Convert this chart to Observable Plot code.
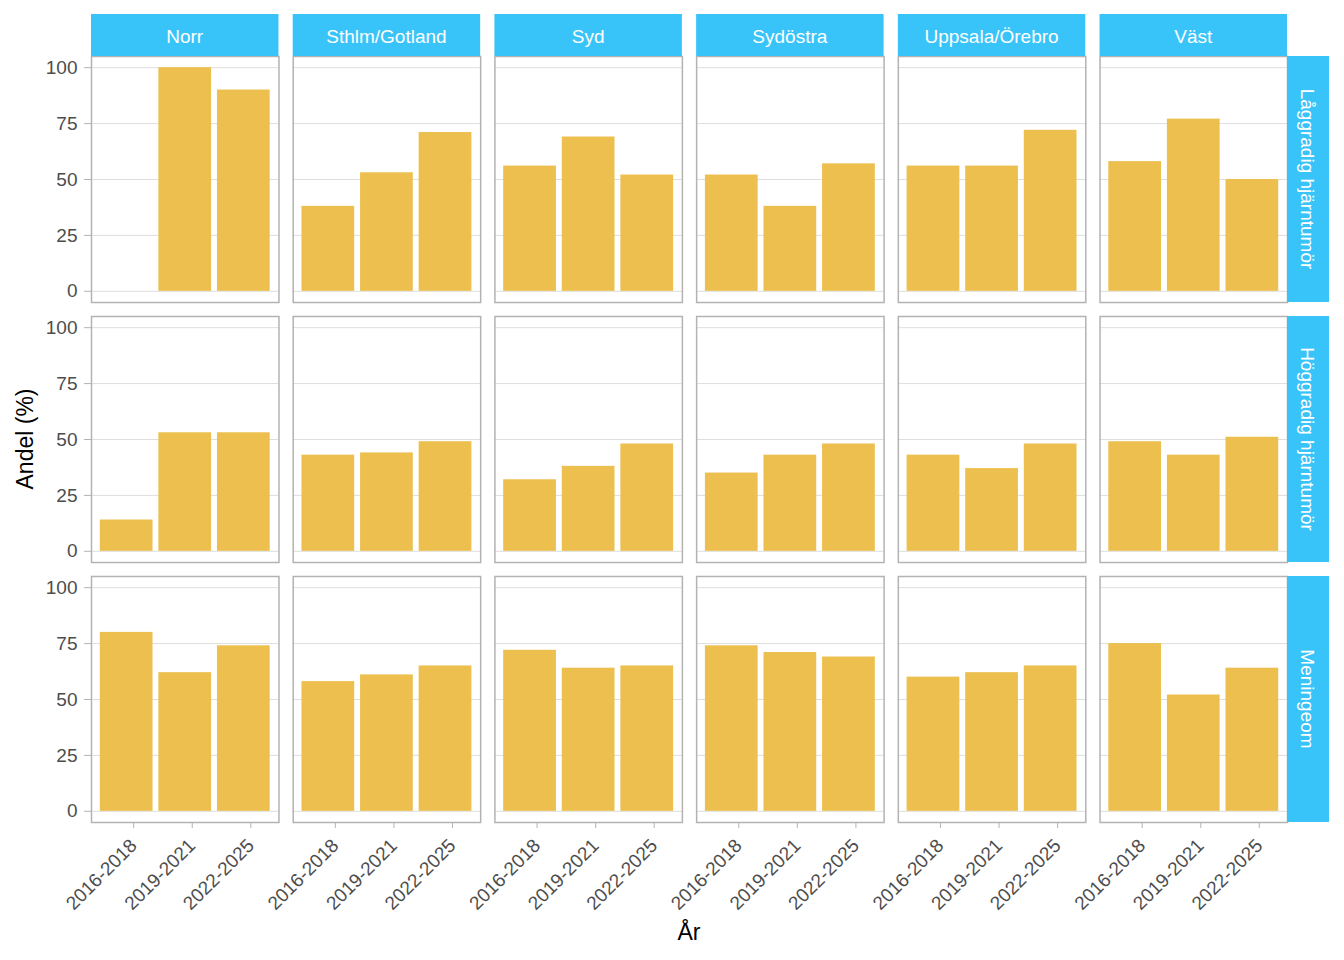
<!DOCTYPE html>
<html><head><meta charset="utf-8">
<script src="https://cdn.jsdelivr.net/npm/d3@7"></script>
<script src="https://cdn.jsdelivr.net/npm/@observablehq/plot@0.6"></script>
<style>body{margin:0;background:#fff}</style>
</head><body><div id="chart"></div>
<script>
const regions = ["Norr", "Sthlm/Gotland", "Syd", "Sydöstra", "Uppsala/Örebro", "Väst"];
const types = ["Låggradig hjärntumör", "Höggradig hjärntumör", "Meningeom"];
const periods = ["2016-2018", "2019-2021", "2022-2025"];
const yTicks = [0, 25, 50, 75, 100];
// one row per region, values per period (null = no bar)
const lowGrade   = [[null, 100, 90], [38, 53, 71], [56, 69, 52], [52, 38, 57], [56, 56, 72], [58, 77, 50]];
const highGrade  = [[14, 53, 53], [43, 44, 49], [32, 38, 48], [35, 43, 48], [43, 37, 48], [49, 43, 51]];
const meningioma = [[80, 62, 74], [58, 61, 65], [72, 64, 65], [74, 71, 69], [60, 62, 65], [75, 52, 64]];
const seriesByType = [lowGrade, highGrade, meningioma];

const data = [];
types.forEach((t, ti) => {
  regions.forEach((r, ri) => {
    periods.forEach((p, pi) => {
      const v = seriesByType[ti][ri][pi];
      if (v != null) data.push({type: t, region: r, period: p, value: v});
    });
  });
});

const W = 1344, H = 960, mL = 91, mR = 57, mT = 56, mB = 138;
const FONT = "'Liberation Sans', Arial, sans-serif";
const STRIP = "#39C4F9";

const plot = Plot.plot({
  width: W, height: H,
  marginLeft: mL, marginRight: mR, marginTop: mT, marginBottom: mB,
  style: {fontFamily: FONT, background: "white"},
  facet: {data, x: "region", y: "type"},
  fx: {domain: regions, axis: null, paddingInner: 0.0706, paddingOuter: 0, round: false},
  fy: {domain: types, axis: null, paddingInner: 0.0538, paddingOuter: 0, round: false},
  x: {domain: periods, paddingInner: 0.1, paddingOuter: 0.15, round: false, axis: null},
  y: {domain: [-5, 105], axis: null},
  marks: [
    Plot.gridY(yTicks, {stroke: "#DEDEDE", strokeOpacity: 1, strokeWidth: 1}),
    Plot.barY(data, {x: "period", y: "value", fill: "#ECBF4E"}),
    Plot.frame({stroke: "#B3B3B3", strokeWidth: 1.5}),
    Plot.axisY(yTicks, {anchor: "left", tickSize: 7, tickPadding: 7, stroke: "#B3B3B3", fill: "#4D4D4D", fontSize: 19, label: null}),
    Plot.axisX(periods, {anchor: "bottom", tickSize: 6, tickPadding: 14, dx: 7, tickRotate: -45, stroke: "#B3B3B3", fill: "#4D4D4D", fontSize: 19, label: null})
  ]
});

document.getElementById("chart").appendChild(plot);

const svg = d3.select(plot);
const fx = plot.scale("fx"), fy = plot.scale("fy");
const g = svg.append("g").attr("font-family", FONT);

regions.forEach(r => {
  const x0 = fx.apply(r), w = fx.bandwidth;
  g.append("rect").attr("x", x0).attr("y", 14).attr("width", w).attr("height", mT - 14).attr("fill", STRIP);
  g.append("text").attr("x", x0 + w / 2).attr("y", 36).attr("text-anchor", "middle")
    .attr("dominant-baseline", "central").attr("fill", "white").attr("font-size", 19).text(r);
});
types.forEach(t => {
  const y0 = fy.apply(t), h = fy.bandwidth;
  const x0 = W - mR;
  g.append("rect").attr("x", x0).attr("y", y0).attr("width", 42).attr("height", h).attr("fill", STRIP);
  g.append("text").attr("transform", `translate(${x0 + 20},${y0 + h / 2}) rotate(90)`)
    .attr("text-anchor", "middle").attr("dominant-baseline", "central")
    .attr("fill", "white").attr("font-size", 19).text(t);
});

g.append("text").attr("transform", `translate(25,${(mT + H - mB) / 2}) rotate(-90)`)
  .attr("text-anchor", "middle").attr("dominant-baseline", "central")
  .attr("fill", "black").attr("font-size", 23).text("Andel (%)");
g.append("text").attr("x", (mL + W - mR) / 2).attr("y", 932)
  .attr("text-anchor", "middle").attr("dominant-baseline", "central")
  .attr("fill", "black").attr("font-size", 23).text("År");
</script>
</body></html>
